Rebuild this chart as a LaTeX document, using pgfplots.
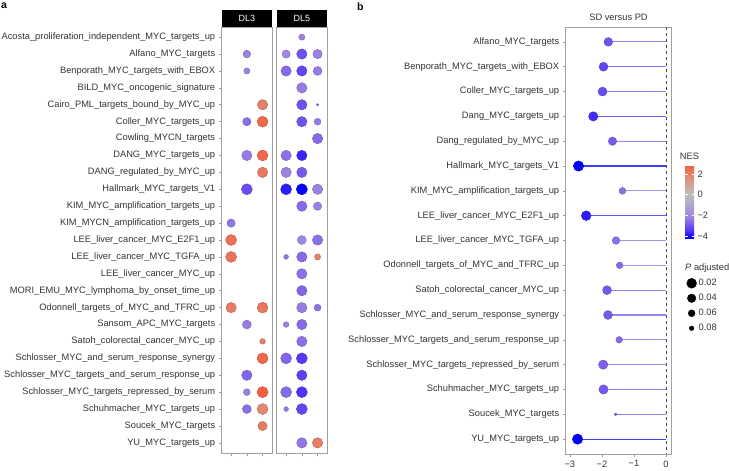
\documentclass[border=0pt]{standalone}
\usepackage{pgfplots}
\pgfplotsset{compat=1.18}
\usepackage{pgfplotstable}
\usepackage{fontspec}
\setmainfont{Liberation Sans}

\tikzset{lbl/.style={font=\fontsize{9.3}{10}\selectfont, text=black!80}}

\pgfplotsset{
  colormap={nes}{rgb255(0pt)=(0,0,255); rgb255(70pt)=(80,50,248); rgb255(140pt)=(125,95,236); rgb255(210pt)=(160,135,225); rgb255(315pt)=(176,165,210); rgb255(420pt)=(190,190,190); rgb255(564pt)=(218,150,130); rgb255(707pt)=(245,95,65)},
  dots/.style={scatter, only marks, mark=*, point meta=explicit,
    visualization depends on={sqrt(31-320*\thisrow{p}) \as \rad},
    scatter/@pre marker code/.append style={/tikz/mark size=\rad}},
  pframe/.style={scale only axis, y dir=reverse, colormap name=nes,
    point meta min=-4.2, point meta max=2.87,
    axis line style={gray!75, line width=0.6pt},
    tick style={gray!75, line width=0.6pt},
    tick align=outside, major tick length=3pt,
    tick pos=left,
    yticklabel style={lbl}, xticklabel style={lbl}},
  dlpanel/.style={pframe, width=50.3pt, height=426pt,
    xmin=0.4, xmax=3.6, ymin=-0.6, ymax=24.6, xtick={1,2,3}, xticklabels={},
    every axis title/.style={at={(0.5,1)}, anchor=south, fill=black, text=white,
      minimum width=50.3pt, minimum height=17.3pt, inner sep=0pt,
      font=\fontsize{9}{10}\selectfont}},
}

% panel a: row (0 = top), column within group, NES, adjusted P
\pgfplotstableread{
row col nes p
1 2 -2.2 0.051
2 2 -2.2 0.067
4 3 2.0 0.013
5 2 -2.5 0.043
5 3 2.6 0.003
7 2 -2.3 0.013
7 3 2.6 0.003
8 3 2.2 0.013
9 2 -3.1 0.003
11 1 -2.4 0.043
12 1 2.4 0.003
13 1 2.3 0.003
16 1 2.1 0.013
16 3 2.2 0.003
17 2 -2.3 0.035
18 3 2.0 0.072
19 3 2.7 0.003
20 2 -2.7 0.013
21 2 -2.2 0.060
21 3 2.87 0.001
22 2 -2.5 0.035
22 3 1.8 0.003
23 3 2.1 0.029
}\dlthree

\pgfplotstableread{
row col nes p
0 2 -2.2 0.067
1 1 -2.1 0.043
1 2 -3.0 0.013
1 3 -2.2 0.029
2 1 -2.6 0.013
2 2 -3.2 0.013
2 3 -2.3 0.035
3 2 -2.3 0.013
4 2 -3.0 0.013
4 3 -2.5 0.092
5 2 -3.0 0.013
5 3 -2.3 0.060
6 3 -2.6 0.013
7 1 -2.5 0.013
7 2 -3.7 0.013
8 1 -2.2 0.013
8 2 -2.9 0.013
9 1 -3.8 0.003
9 2 -4.2 0.001
9 3 -2.2 0.013
10 2 -2.6 0.013
10 3 -2.2 0.043
12 2 -2.1 0.035
12 3 -2.5 0.013
13 1 -2.4 0.079
13 2 -2.6 0.013
13 3 2.0 0.067
14 2 -2.5 0.013
15 2 -2.7 0.013
16 2 -2.3 0.013
16 3 -2.5 0.060
17 1 -2.2 0.072
17 2 -2.6 0.013
18 2 -2.5 0.013
19 1 -2.7 0.003
19 2 -3.4 0.003
20 2 -3.3 0.013
21 1 -2.6 0.003
21 2 -3.5 0.003
22 1 -2.3 0.079
22 2 -3.2 0.003
24 2 -2.4 0.013
24 3 2.1 0.013
}\dlfive

% panel b: SD versus PD
\pgfplotstableread{
row es nes p
0 -1.80 -3.0 0.038
1 -1.95 -3.2 0.035
2 -1.98 -3.1 0.035
3 -2.27 -3.6 0.029
4 -1.67 -2.9 0.043
5 -2.73 -4.2 0.013
6 -1.36 -2.5 0.060
7 -2.49 -3.8 0.023
8 -1.56 -2.5 0.051
9 -1.45 -2.6 0.063
10 -1.84 -2.9 0.035
11 -1.81 -2.9 0.035
12 -1.46 -2.6 0.063
13 -1.96 -2.8 0.029
14 -1.95 -2.9 0.029
15 -1.57 -3.0 0.092
16 -2.76 -4.2 0.013
}\panelb

\begin{document}
\begin{tikzpicture}
\useasboundingbox (0pt,0pt) rectangle (729pt,-471pt);
\node[anchor=north west, font=\bfseries\fontsize{10.5}{12}\selectfont, inner sep=0pt] at (1pt,-3pt) {a};
\node[anchor=north west, font=\bfseries\fontsize{10.5}{12}\selectfont, inner sep=0pt] at (357pt,-3pt) {b};

\begin{axis}[dlpanel, at={(221.7pt,-27pt)}, anchor=north west, title={DL3},
  ytick={0,...,24},
  yticklabels={Acosta\_proliferation\_independent\_MYC\_targets\_up, Alfano\_MYC\_targets, Benporath\_MYC\_targets\_with\_EBOX, BILD\_MYC\_oncogenic\_signature, Cairo\_PML\_targets\_bound\_by\_MYC\_up, Coller\_MYC\_targets\_up, Cowling\_MYCN\_targets, DANG\_MYC\_targets\_up, DANG\_regulated\_by\_MYC\_up, Hallmark\_MYC\_targets\_V1, KIM\_MYC\_amplification\_targets\_up, KIM\_MYCN\_amplification\_targets\_up, LEE\_liver\_cancer\_MYC\_E2F1\_up, LEE\_liver\_cancer\_MYC\_TGFA\_up, LEE\_liver\_cancer\_MYC\_up, MORI\_EMU\_MYC\_lymphoma\_by\_onset\_time\_up, Odonnell\_targets\_of\_MYC\_and\_TFRC\_up, Sansom\_APC\_MYC\_targets, Satoh\_colorectal\_cancer\_MYC\_up, Schlosser\_MYC\_and\_serum\_response\_synergy, Schlosser\_MYC\_targets\_and\_serum\_response\_up, Schlosser\_MYC\_targets\_repressed\_by\_serum, Schuhmacher\_MYC\_targets\_up, Soucek\_MYC\_targets, YU\_MYC\_targets\_up}]
\addplot[dots] table[x=col, y=row, meta=nes] {\dlthree};
\end{axis}

\begin{axis}[dlpanel, at={(276.7pt,-27pt)}, anchor=north west, title={DL5}, ytick=\empty]
\addplot[dots] table[x=col, y=row, meta=nes] {\dlfive};
\end{axis}

\begin{axis}[pframe, at={(565.7pt,-27pt)}, anchor=north west, width=105.6pt, height=427pt,
  xmin=-3.13, xmax=0.165, ymin=-0.6, ymax=16.6,
  xtick={-3,-2,-1,0}, xticklabels={−3,−2,−1,0},
  ytick={0,...,16},
  yticklabels={Alfano\_MYC\_targets, Benporath\_MYC\_targets\_with\_EBOX, Coller\_MYC\_targets\_up, Dang\_MYC\_targets\_up, Dang\_regulated\_by\_MYC\_up, Hallmark\_MYC\_targets\_V1, KIM\_MYC\_amplification\_targets\_up, LEE\_liver\_cancer\_MYC\_E2F1\_up, LEE\_liver\_cancer\_MYC\_TGFA\_up, Odonnell\_targets\_of\_MYC\_and\_TFRC\_up, Satoh\_colorectal\_cancer\_MYC\_up, Schlosser\_MYC\_and\_serum\_response\_synergy, Schlosser\_MYC\_targets\_and\_serum\_response\_up, Schlosser\_MYC\_targets\_repressed\_by\_serum, Schuhmacher\_MYC\_targets\_up, Soucek\_MYC\_targets, YU\_MYC\_targets\_up},
  title={SD versus PD}, title style={lbl, yshift=-3pt},
]
\addplot[dashed, black!70, line width=0.5pt] coordinates {(0,-0.6) (0,16.6)};
% lollipop: stem from each dot to zero, in a lighter tint of the dot's colour
\addplot[dots,
  visualization depends on={0-(\thisrow{es}) \as \seglen},
  scatter/@pre marker code/.append code={\draw[draw=mapped color!75!white, line width=1.1pt] (0pt,0pt) -- (axis direction cs:\seglen,0);}]
  table[x=es, y=row, meta=nes] {\panelb};
\end{axis}

% legends: colour scale and size key
\begin{axis}[hide axis, scale only axis, clip=false, at={(565.7pt,-27pt)}, anchor=north west,
  width=105.6pt, height=427pt, xmin=0, xmax=1, ymin=0, ymax=1,
  colormap name=nes, point meta min=-4.2, point meta max=2.87,
  colorbar,
  colorbar shift/.style={},
  colorbar style={at={(parent axis.north west)}, anchor=north west,
    xshift=119.3pt, yshift=-138pt, scale only axis,
    width=9pt, height=73pt,
    ytick={-4,-2,0,2}, yticklabels={−4,−2,0,2}, yticklabel style={lbl},
    title={NES}, title style={lbl, yshift=-4pt},
    axis line style={draw=none}, tick style={white, line width=0.6pt},
    major tick length=2.5pt, tick align=inside},
  legend style={at={(1.115,0.419)}, anchor=north west, draw=none, fill=none,
    font=\fontsize{9.3}{10}\selectfont, text=black!80, row sep=3pt},
  legend cell align=left,
  legend image code/.code={\pgfpathrectangle{\pgfpoint{-5pt}{-5pt}}{\pgfpoint{10pt}{10pt}}\pgfusepath{use as bounding box}\draw[#1] plot coordinates {(0pt,0pt)};},
]
\node[lbl, anchor=west, inner sep=0pt] at (axis description cs:1.13,0.436) {\textit{P} adjusted};
\addlegendimage{only marks, mark=*, black, mark size={sqrt(31-320*0.02)}}\addlegendentry{0.02}
\addlegendimage{only marks, mark=*, black, mark size={sqrt(31-320*0.04)}}\addlegendentry{0.04}
\addlegendimage{only marks, mark=*, black, mark size={sqrt(31-320*0.06)}}\addlegendentry{0.06}
\addlegendimage{only marks, mark=*, black, mark size={sqrt(31-320*0.08)}}\addlegendentry{0.08}
\addplot[draw=none, forget plot] coordinates {(0.5,0.5)};
\end{axis}
\end{tikzpicture}
\end{document}
